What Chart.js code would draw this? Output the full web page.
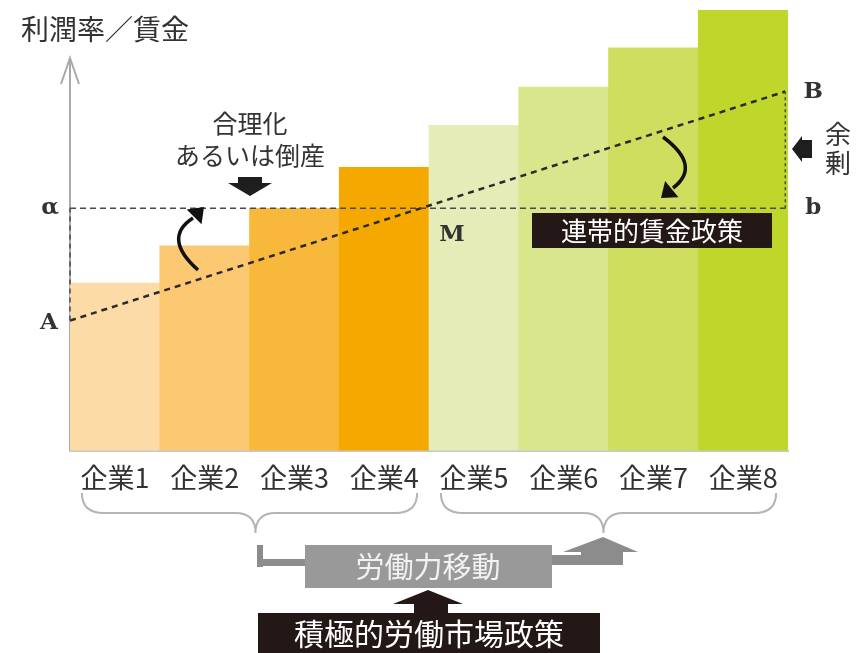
<!DOCTYPE html>
<html>
<head>
<meta charset="utf-8">
<script src="https://cdn.jsdelivr.net/npm/chart.js@4.4.0/dist/chart.umd.min.js"></script>
<style>
  html, body { margin: 0; padding: 0; background: #fff; }
  #wrap { width: 868px; height: 653px; position: relative; }
</style>
</head>
<body>
<div id="wrap"><canvas id="chart" width="868" height="653"></canvas></div>
<script>
// data (bar top = profit rate, 0..100 scale)
const categories = ['企業1', '企業2', '企業3', '企業4', '企業5', '企業6', '企業7', '企業8'];
const profitRates = [38, 46.5, 55, 64.3, 73.8, 82.5, 91.4, 100];
const barColors = ['#fcdba6', '#fcc872', '#f8b83c', '#f5a800', '#e6ecb8', '#dae68c', '#cfde5e', '#bfd62b'];
const wageEnds = [29.5, 81.5];      // wage line A (left edge) -> B (right edge)
const solidarityWage = 55;          // α / b level
const lineSpan = [-0.5, 7.47];      // x range of the wage lines, in category units

const CJK = '"Noto Sans CJK JP", "Noto Sans", sans-serif';

function arrowHead(ctx, x, y, ang, size) {
    ctx.save();
    ctx.translate(x, y);
    ctx.rotate(ang);
    ctx.beginPath();
    ctx.moveTo(0, 0);
    ctx.lineTo(-size, -size * 0.75);
    ctx.lineTo(-size, size * 0.75);
    ctx.closePath();
    ctx.fill();
    ctx.restore();
}

function brace(ctx, x1, x2, yTop, yMid, tipX, tipY) {
    ctx.beginPath();
    ctx.moveTo(x1, yTop);
    ctx.quadraticCurveTo(x1, yMid, x1 + 22, yMid);
    ctx.lineTo(tipX - 20, yMid);
    ctx.quadraticCurveTo(tipX, yMid, tipX, tipY);
    ctx.quadraticCurveTo(tipX, yMid, tipX + 20, yMid);
    ctx.lineTo(x2 - 22, yMid);
    ctx.quadraticCurveTo(x2, yMid, x2, yTop);
    ctx.stroke();
}

const annotations = {
    id: 'annotations',
    beforeDatasetsDraw(chart) {
        // y axis with open arrow, under the dashed lines
        const ctx = chart.ctx;
        const area = chart.chartArea;
        ctx.save();
        ctx.strokeStyle = '#aaa';
        ctx.lineWidth = 2;
        ctx.beginPath();
        ctx.moveTo(area.left, 58);
        ctx.lineTo(area.left, area.bottom);
        ctx.moveTo(area.left - 9, 84);
        ctx.lineTo(area.left, 58);
        ctx.lineTo(area.left + 9, 84);
        ctx.stroke();
        ctx.restore();
    },
    afterDraw(chart) {
        const ctx = chart.ctx;
        const x = chart.scales.x, y = chart.scales.y, x2 = chart.scales.x2;
        ctx.save();

        // axis title
        ctx.fillStyle = '#333';
        ctx.font = '28px ' + CJK;
        ctx.textBaseline = 'middle';
        ctx.textAlign = 'left';
        ctx.fillText('利潤率／賃金', 21, 29);

        // letters
        ctx.font = 'bold 23px "DejaVu Serif", serif';
        ctx.textAlign = 'center';
        const yAlpha = y.getPixelForValue(solidarityWage);
        const xLeft = x2.getPixelForValue(lineSpan[0]);
        const xRight = x2.getPixelForValue(lineSpan[1]);
        ctx.fillText('α', xLeft - 20, yAlpha);
        ctx.fillText('A', xLeft - 21, y.getPixelForValue(wageEnds[0]) + 2);
        ctx.fillText('M', x2.getPixelForValue(3.5) + 23, yAlpha + 27);
        ctx.fillText('B', xRight + 28, y.getPixelForValue(wageEnds[1]) + 1);
        ctx.fillText('b', xRight + 28, yAlpha);

        // 合理化 あるいは倒産
        ctx.font = '25px ' + CJK;
        ctx.fillText('合理化', 250, 123);
        ctx.fillText('あるいは倒産', 250, 155);
        ctx.fillStyle = '#1e1e1e';
        ctx.beginPath();
        ctx.moveTo(238, 177); ctx.lineTo(262, 177); ctx.lineTo(262, 183);
        ctx.lineTo(272, 183); ctx.lineTo(250, 196); ctx.lineTo(228, 183);
        ctx.lineTo(238, 183); ctx.closePath(); ctx.fill();

        // curved arrow up (firm 2)
        ctx.strokeStyle = '#111';
        ctx.fillStyle = '#111';
        ctx.lineWidth = 3.5;
        ctx.beginPath();
        ctx.moveTo(198, 270);
        ctx.quadraticCurveTo(162, 238, 193, 218);
        ctx.stroke();
        arrowHead(ctx, 204, 207, -Math.PI / 4, 14);

        // curved arrow down (green side)
        ctx.beginPath();
        ctx.moveTo(663, 137);
        ctx.quadraticCurveTo(702, 166, 673, 188);
        ctx.stroke();
        arrowHead(ctx, 661, 198, Math.PI * 0.78, 14);

        // 余剰 with left arrow
        ctx.fillStyle = '#333';
        ctx.font = '26px ' + CJK;
        ctx.fillText('余', 838, 134);
        ctx.fillText('剰', 838, 163);
        ctx.fillStyle = '#1e1e1e';
        ctx.beginPath();
        ctx.moveTo(792, 149); ctx.lineTo(802, 136); ctx.lineTo(802, 140);
        ctx.lineTo(812, 140); ctx.lineTo(812, 158); ctx.lineTo(802, 158);
        ctx.lineTo(802, 162); ctx.closePath(); ctx.fill();

        // 連帯的賃金政策 box
        ctx.fillStyle = '#231815';
        ctx.fillRect(532, 213, 240, 35);
        ctx.fillStyle = '#fff';
        ctx.font = '26px ' + CJK;
        ctx.fillText('連帯的賃金政策', 652, 231);

        // braces
        ctx.strokeStyle = '#b4b4b4';
        ctx.lineWidth = 2;
        brace(ctx, x.getPixelForValue(0) - 33, x.getPixelForValue(3) + 33, 493, 513, x.getPixelForValue(1.5) + 6, 533);
        brace(ctx, x.getPixelForValue(4) - 33, x.getPixelForValue(7) + 33, 493, 513, x.getPixelForValue(5.5) - 5, 533);

        // 労働力移動
        ctx.fillStyle = '#8c8c8c';
        ctx.fillRect(257, 545, 6, 22);
        ctx.fillRect(257, 559, 50, 7);
        ctx.fillRect(552, 555, 30, 10);
        ctx.fillRect(581, 551, 42, 14);
        ctx.beginPath();
        ctx.moveTo(563, 552); ctx.lineTo(603, 537); ctx.lineTo(638, 552); ctx.closePath(); ctx.fill();
        ctx.fillStyle = '#999';
        ctx.fillRect(305, 545, 247, 43);
        ctx.fillStyle = '#f2f2f2';
        ctx.font = '29px ' + CJK;
        ctx.fillText('労働力移動', 428, 567);

        // 積極的労働市場政策
        ctx.fillStyle = '#231815';
        ctx.beginPath();
        ctx.moveTo(393, 604); ctx.lineTo(428, 590); ctx.lineTo(463, 604); ctx.closePath(); ctx.fill();
        ctx.fillRect(414, 603, 34, 12);
        ctx.fillRect(258, 613, 342, 40);
        ctx.fillStyle = '#fff';
        ctx.font = '30px ' + CJK;
        ctx.fillText('積極的労働市場政策', 429, 634);

        ctx.restore();
    }
};

const dashLine = (pts, width, dash, color) => ({
    type: 'line',
    xAxisID: 'x2',
    data: pts,
    borderColor: color,
    borderWidth: width,
    borderDash: dash,
    pointRadius: 0,
    fill: false,
    clip: false,
    order: 0
});

new Chart(document.getElementById('chart').getContext('2d'), {
    type: 'bar',
    data: {
        labels: categories,
        datasets: [
            {
                data: profitRates,
                backgroundColor: barColors,
                barPercentage: 1,
                categoryPercentage: 1,
                grouped: false,
                order: 1
            },
            dashLine([{ x: lineSpan[0], y: solidarityWage }, { x: lineSpan[1], y: solidarityWage }], 1.5, [6, 4], '#4a4a4a'),
            dashLine([{ x: lineSpan[0], y: wageEnds[0] }, { x: lineSpan[0], y: solidarityWage }], 1.5, [5, 4], '#4a4a4a'),
            dashLine([{ x: lineSpan[1], y: solidarityWage }, { x: lineSpan[1], y: wageEnds[1] }], 1.5, [3, 3], '#4a4a4a'),
            dashLine([{ x: lineSpan[0], y: wageEnds[0] }, { x: lineSpan[1], y: wageEnds[1] }], 2.5, [6, 5], '#2a2a2a')
        ]
    },
    options: {
        responsive: false,
        animation: false,
        layout: { padding: { left: 70, right: 80, top: 10, bottom: 156 } },
        plugins: { legend: { display: false }, tooltip: { enabled: false } },
        scales: {
            x: {
                grid: { display: false },
                border: { display: true, color: '#c8c8c8', width: 2 },
                ticks: { color: '#333', font: { family: CJK, size: 27 }, padding: 3, maxRotation: 0, autoSkip: false }
            },
            x2: { type: 'linear', display: false, offset: false, min: -0.5, max: 7.5 },
            y: { display: false, min: 0, max: 100 }
        }
    },
    plugins: [annotations]
});
</script>
</body>
</html>
